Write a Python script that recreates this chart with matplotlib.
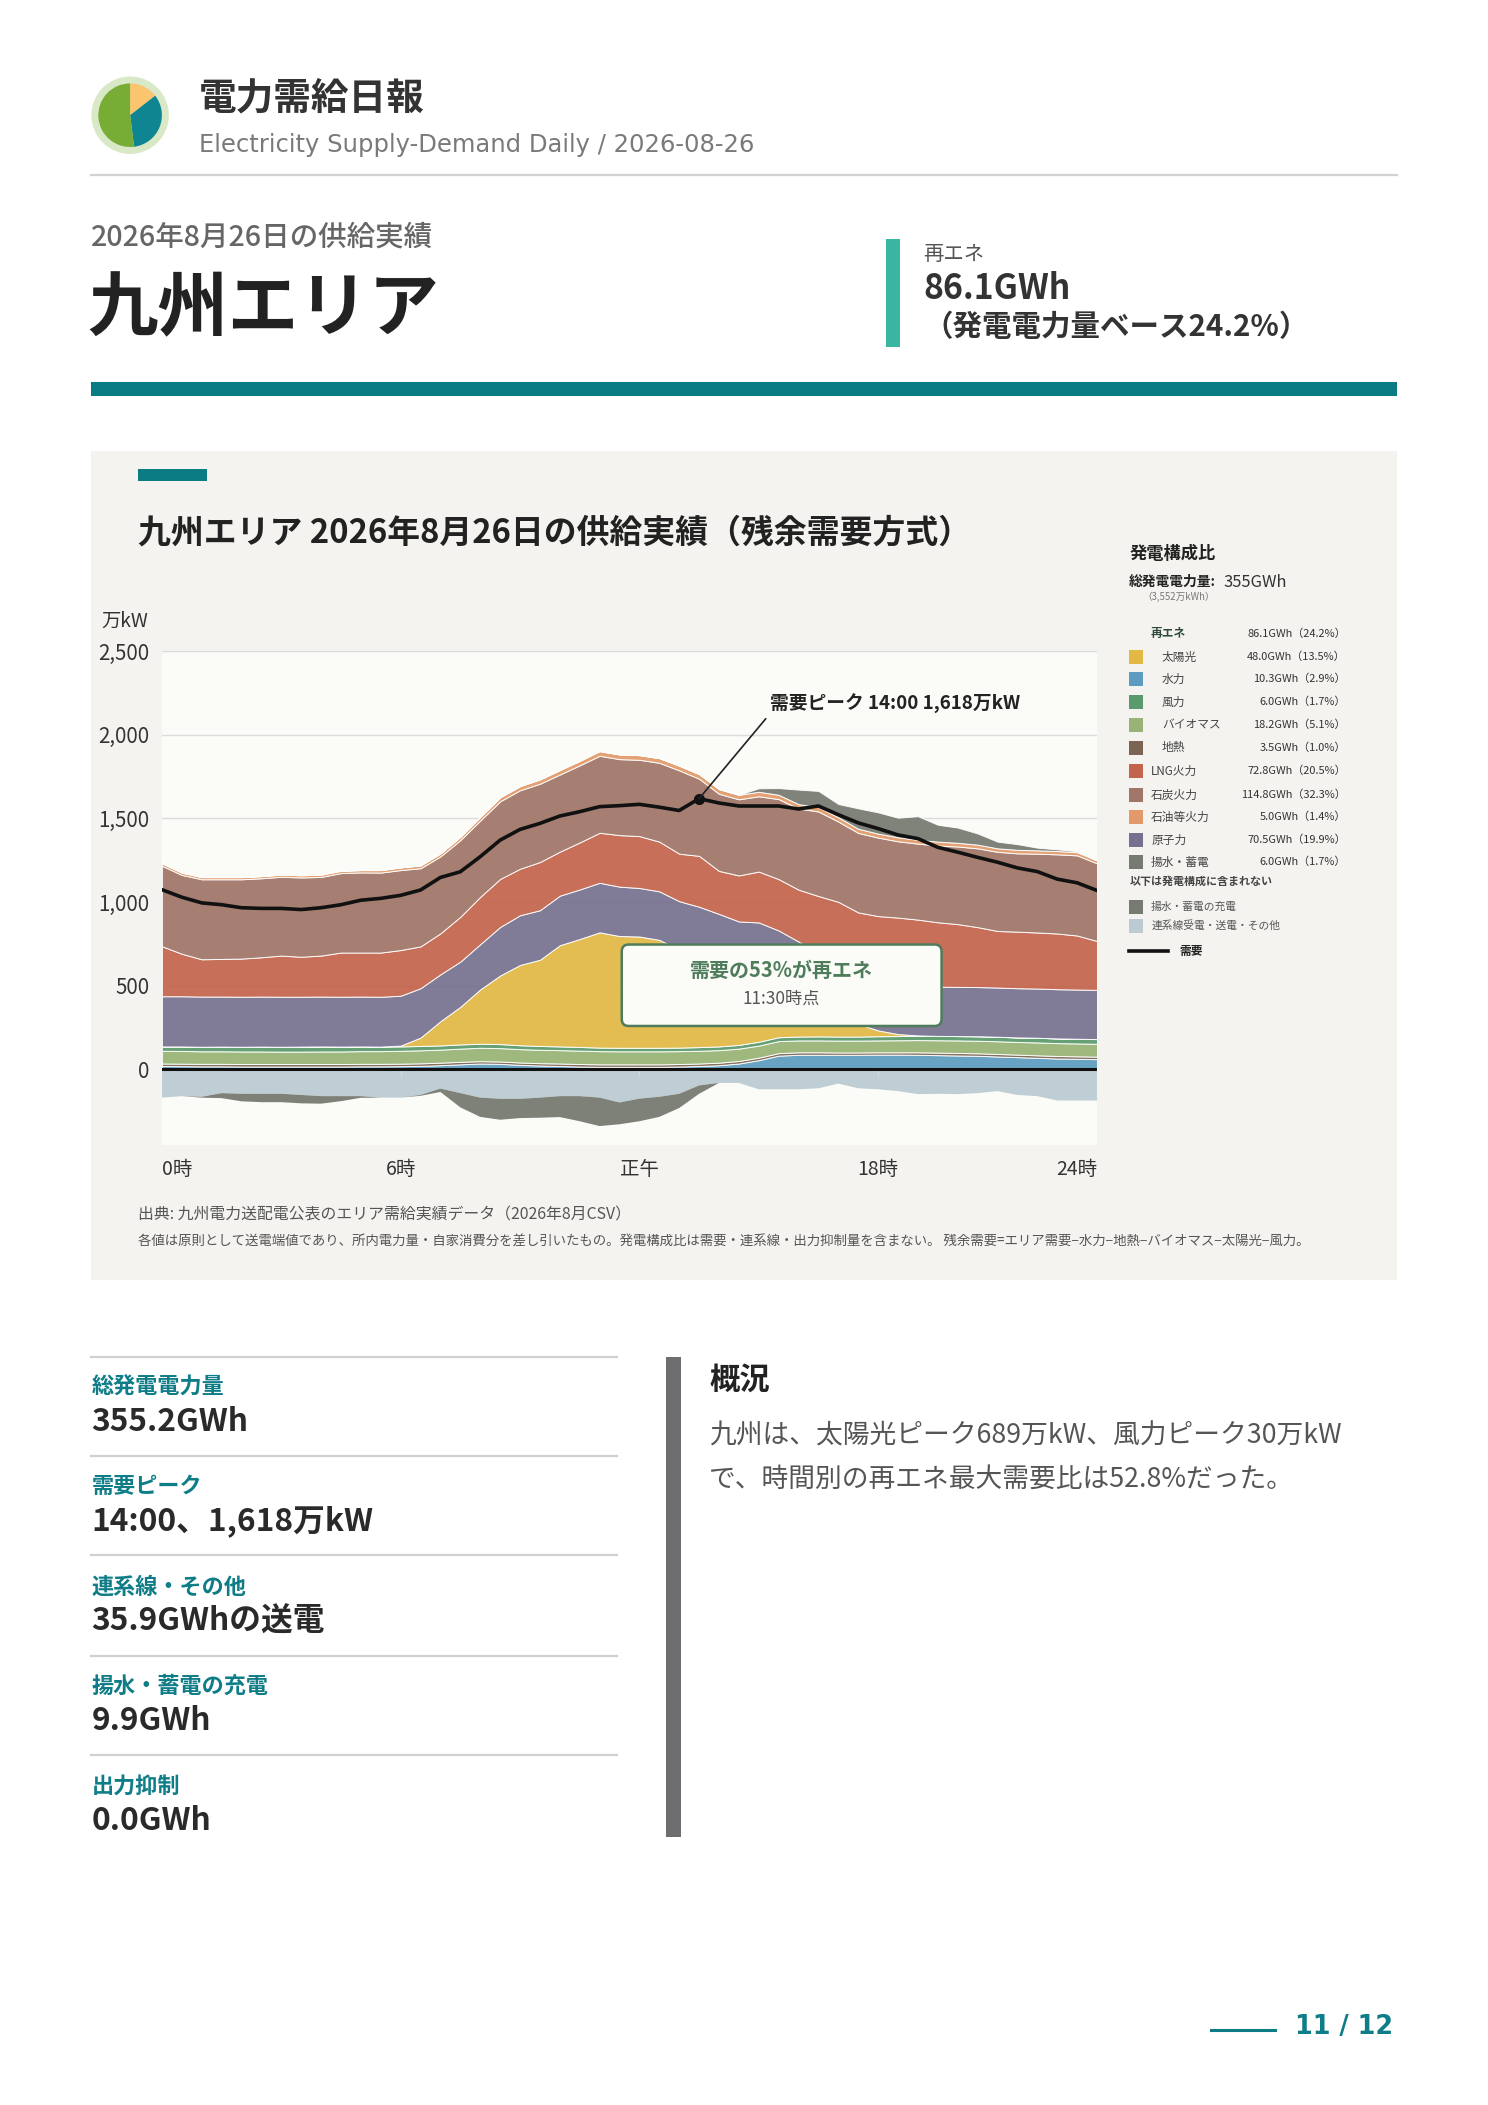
import numpy as np
import matplotlib
matplotlib.use("Agg")
import matplotlib.pyplot as plt
from matplotlib.patches import Rectangle, FancyBboxPatch, Wedge, Circle

plt.rcParams["font.family"] = ["Noto Sans CJK JP", "DejaVu Sans"]

# ============================================================
# データ（30分値、万kW）
# ============================================================

hours = np.arange(48) / 2

hydro = [20, 19, 18, 18, 17, 17, 17, 17, 17, 17, 18, 18,
         19, 21, 25, 30, 35, 33, 27, 23, 20, 17, 15, 15,
         15, 15, 17, 20, 25, 35, 55, 82, 87, 87, 87, 87,
         88, 88, 87, 85, 83, 81, 77, 73, 69, 65, 63, 61]
geothermal = [15, 15, 15, 15, 15, 15, 15, 15, 15, 15, 15, 15,
              15, 15, 15, 15, 14, 14, 14, 14, 15, 15, 15, 15,
              15, 15, 15, 15, 15, 15, 15, 15, 15, 15, 14, 14,
              14, 14, 15, 15, 15, 15, 15, 15, 15, 15, 15, 15]
biomass = [76, 76, 75, 75, 75, 75, 74, 74, 75, 75, 76, 76,
           77, 78, 78, 79, 80, 80, 80, 80, 80, 80, 79, 78,
           78, 78, 77, 76, 75, 74, 72, 72, 71, 71, 71, 71,
           71, 72, 73, 74, 75, 75, 76, 76, 77, 77, 77, 77]
wind = [26, 27, 27, 28, 28, 29, 29, 30, 30, 29, 28, 27,
        26, 26, 25, 25, 24, 24, 23, 23, 22, 22, 21, 21,
        21, 21, 21, 22, 22, 22, 23, 23, 23, 24, 24, 24,
        25, 25, 25, 26, 26, 27, 27, 27, 28, 28, 28, 28]
solar = [0, 0, 0, 0, 0, 0, 0, 0, 0, 0, 0, 0,
         5, 50, 145, 225, 325, 410, 480, 515, 605, 645, 689, 668,
         665, 645, 585, 548, 500, 445, 420, 345, 275, 200, 130, 75,
         35, 12, 3, 0, 0, 0, 0, 0, 0, 0, 0, 0]
nuclear = [300, 300, 300, 299, 299, 299, 299, 298, 298, 298, 298, 298,
           298, 295, 280, 270, 270, 290, 297, 296, 296, 296, 296, 295,
           290, 290, 290, 291, 292, 293, 293, 293, 293, 294, 294, 294,
           294, 294, 294, 294, 294, 294, 294, 294, 294, 294, 294, 294]
lng = [299, 254, 223, 225, 228, 235, 246, 239, 245, 264, 263, 264,
       273, 250, 245, 268, 283, 287, 278, 288, 263, 281, 299, 308,
       310, 297, 284, 304, 257, 275, 304, 307, 310, 345, 381, 373,
       389, 402, 398, 385, 375, 358, 338, 338, 335, 333, 323, 292]
coal = [481, 471, 478, 476, 474, 472, 471, 474, 470, 475, 479, 478,
        478, 467, 460, 458, 456, 464, 469, 468, 461, 461, 460, 454,
        456, 471, 498, 461, 461, 455, 450, 478, 485, 505, 480, 475,
        469, 456, 454, 459, 464, 471, 473, 468, 471, 473, 479, 464]
oil = [15, 14, 13, 13, 13, 13, 13, 13, 14, 14, 14, 15,
       16, 17, 18, 20, 22, 24, 25, 26, 27, 27, 28, 28,
       28, 28, 28, 28, 28, 27, 27, 26, 26, 26, 25, 25,
       24, 24, 23, 23, 22, 22, 21, 21, 20, 20, 19, 18]
pumped_gen = [0, 0, 0, 0, 0, 0, 0, 0, 0, 0, 0, 0,
              0, 0, 0, 0, 0, 0, 0, 0, 0, 0, 0, 0,
              0, 0, 0, 0, 0, 0, 21, 40, 87, 97, 80, 122,
              127, 117, 141, 101, 91, 67, 40, 34, 16, 10, 6, 0]
interconnect = [169, 160, 164, 142, 146, 146, 146, 153, 160, 160, 160, 169,
                169, 153, 115, 142, 169, 176, 176, 169, 160, 160, 169, 198,
                175, 164, 146, 96, 81, 81, 119, 119, 119, 113, 85, 113,
                119, 130, 148, 146, 148, 142, 130, 153, 160, 186, 186, 186]
pumped_charge = [0, 0, 5, 30, 45, 50, 50, 50, 45, 30, 10, 0,
                 0, 5, 20, 85, 115, 125, 115, 120, 125, 150, 170, 130,
                 135, 120, 85, 50, 0, 0, 0, 0, 0, 0, 0, 0,
                 0, 0, 0, 0, 0, 0, 0, 0, 0, 0, 0, 0]
demand = [1074, 1029, 995, 984, 966, 962, 962, 955, 966, 984, 1011, 1022,
          1040, 1072, 1147, 1181, 1271, 1370, 1434, 1470, 1514, 1540, 1570, 1576,
          1584, 1567, 1547, 1618, 1592, 1574, 1574, 1574, 1556, 1574, 1522, 1473,
          1439, 1401, 1379, 1327, 1298, 1267, 1238, 1204, 1182, 1137, 1115, 1069]

x_tick_pos = [0, 6, 12, 18, 23.5]
x_tick_labels = ["0時", "6時", "正午", "18時", "24時"]
y_ticks = [0, 500, 1000, 1500, 2000, 2500]
y_tick_labels = ["0", "500", "1,000", "1,500", "2,000", "2,500"]

mix_names = ["太陽光", "水力", "風力", "バイオマス", "地熱",
             "LNG火力", "石炭火力", "石油等火力", "原子力", "揚水・蓄電"]
mix_gwh = [48.0, 10.3, 6.0, 18.2, 3.5, 72.8, 114.8, 5.0, 70.5, 6.0]
mix_pct = [13.5, 2.9, 1.7, 5.1, 1.0, 20.5, 32.3, 1.4, 19.9, 1.7]
renew_gwh = 86.1
renew_pct = 24.2

stats_labels = ["総発電電力量", "需要ピーク", "連系線・その他", "揚水・蓄電の充電", "出力抑制"]
stats_values = ["355.2GWh", "14:00、1,618万kW", "35.9GWhの送電", "9.9GWh", "0.0GWh"]

logo_shares = [0.145, 0.335, 0.52]

# ============================================================
# 色
# ============================================================

C = {
    "太陽光": "#e2b945",
    "水力": "#5d9cc0",
    "風力": "#5b9a6c",
    "バイオマス": "#98b375",
    "地熱": "#7b6552",
    "LNG火力": "#c3644c",
    "石炭火力": "#a07668",
    "石油等火力": "#e29a6a",
    "原子力": "#77718f",
    "揚水・蓄電": "#767a71",
    "充電": "#767a71",
    "連系線": "#bccbd2",
}
TEAL = "#0b7c84"
TEAL_TXT = "#0f7d88"
PANEL = "#f4f3f0"

W, H = 1488, 2105
S = 0.9932  # レイアウト座標 -> 実ピクセル
fig = plt.figure(figsize=(W / 100, H / 100), dpi=100)


def layout_axes(z):
    a = fig.add_axes([0, 0, 1, 1], zorder=z)
    a.set_xlim(0, W / S)
    a.set_ylim(H / S, 0)
    a.axis("off")
    a.patch.set_alpha(0)
    return a


page = layout_axes(0)


def ptext(x, y, s, size, color="#333333", weight="normal", ha="left", va="center",
          ax=None, family=None):
    kw = {}
    if family:
        kw["family"] = family
    (ax or page).text(x, y, s, fontsize=size * S, color=color, fontweight=weight,
                      ha=ha, va=va, **kw)


# ---- ヘッダー ----
page.add_patch(Circle((131, 116), 39, color="#d9e8c7", lw=0))
start = 90.0
logo_colors = ["#fbc46e", "#0e8590", "#77ac35"]
for share, col in zip(logo_shares, logo_colors):
    end = start - share * 360
    # y軸が反転しているので角度の符号を反転
    page.add_patch(Wedge((131, 116), 32, -start, -end, color=col, lw=0))
    start = end

ptext(200, 99, "電力需給日報", 27.3, color="#333333", weight="bold")
ptext(200, 146, "Electricity Supply-Demand Daily / 2026-08-26", 17.6, color="#7a7a7a",
      family="DejaVu Sans")
page.plot([92, 1407], [176, 176], color="#d2d2d2", lw=1.6)

ptext(92, 239, "2026年8月26日の供給実績", 20.7, color="#666666", weight="medium")
ptext(88, 311, "九州エリア", 51, color="#222222", weight="bold")

page.add_patch(Rectangle((892, 241), 14, 108, color="#3ab5a2", lw=0))
ptext(930, 256, "再エネ", 14.8, color="#555555")
ptext(930, 290, f"{renew_gwh:.1f}GWh", 24.5, color="#333333", weight="bold")
ptext(930, 329, f"（発電電力量ベース{renew_pct:.1f}%）", 21.4, color="#333333", weight="bold")

page.add_patch(Rectangle((92, 385), 1315, 14, color=TEAL, lw=0))

# ---- チャートパネル ----
page.add_patch(Rectangle((92, 454), 1315, 835, color=PANEL, lw=0))
page.add_patch(Rectangle((139, 472), 69, 12, color=TEAL, lw=0))
ptext(139, 537, "九州エリア 2026年8月26日の供給実績（残余需要方式）", 23.8,
      color="#222222", weight="bold")
ptext(102, 626, "万kW", 14, color="#333333")

ptext(139, 1223, "出典: 九州電力送配電公表のエリア需給実績データ（2026年8月CSV）", 11.5,
      color="#555555")
ptext(139, 1250, "各値は原則として送電端値であり、所内電力量・自家消費分を差し引いたもの。"
      "発電構成比は需要・連系線・出力抑制量を含まない。 "
      "残余需要=エリア需要−水力−地熱−バイオマス−太陽光−風力。", 9.75, color="#555555")

# ---- 凡例（発電構成比） ----
LX = 1137
VX = 1355
ptext(LX, 558, "発電構成比", 12.5, color="#222222", weight="bold")
ptext(LX, 586, "総発電電力量:", 10, color="#222222", weight="bold")
ptext(1232, 586, f"{sum(mix_gwh):.0f}GWh", 12, color="#333333")
ptext(1150, 601, "（3,552万kWh）", 7, color="#777777")

ptext(1159, 638, "再エネ", 8.5, color="#2c4a36", weight="bold")
ptext(VX, 638, f"{renew_gwh:.1f}GWh（{renew_pct:.1f}%）", 8, color="#333333", ha="right")

row_y = [661.5, 683.6, 706.8, 730, 753, 776.3, 800.4, 822.6, 845.8, 868]
for name, gwh, pct, y in zip(mix_names, mix_gwh, mix_pct, row_y):
    page.add_patch(Rectangle((LX, y - 7), 14, 14, color=C[name], lw=0))
    indent = 1170 if name in ["太陽光", "水力", "風力", "バイオマス", "地熱"] else 1159
    ptext(indent, y, name, 8.5, color="#444444")
    ptext(VX, y, f"{gwh:.1f}GWh（{pct:.1f}%）", 8, color="#333333", ha="right")

ptext(LX, 888, "以下は発電構成に含まれない", 8, color="#444444", weight="bold")
page.add_patch(Rectangle((LX, 906), 14, 14, color=C["充電"], lw=0))
ptext(1159, 913, "揚水・蓄電の充電", 7.8, color="#555555")
page.add_patch(Rectangle((LX, 925), 14, 14, color=C["連系線"], lw=0))
ptext(1159, 932, "連系線受電・送電・その他", 7.8, color="#555555")
page.plot([LX, 1176], [957.5, 957.5], color="#111111", lw=2.6)
ptext(1187, 957.5, "需要", 8.5, color="#222222", weight="bold")

# ---- 下段の数値 ----
stat_y = [1397, 1497, 1598, 1698, 1798]
for y in [1366, 1466, 1566, 1667, 1767]:
    page.plot([92, 621], [y, y], color="#d0d0d0", lw=1.6)
for lab, val, y in zip(stats_labels, stats_values, stat_y):
    ptext(92, y, lab, 16, color=TEAL_TXT, weight="bold")
    ptext(92, y + 35, val, 23, color="#2a2a2a", weight="bold")

page.add_patch(Rectangle((671, 1366), 15, 484, color="#6e6e70", lw=0))
ptext(714, 1389, "概況", 22, color="#222222", weight="bold")
ptext(714, 1446, "九州は、太陽光ピーク689万kW、風力ピーク30万kW", 19.4, color="#555555")
ptext(714, 1489, "で、時間別の再エネ最大需要比は52.8%だった。", 19.4, color="#555555")

page.plot([1219, 1284], [2044, 2044], color=TEAL, lw=2.2)
ptext(1403, 2041, "11 / 12", 18.5, color=TEAL_TXT, weight="bold", ha="right",
      family="DejaVu Sans")

# ============================================================
# 需給チャート
# ============================================================

L, R, T, B = 163, 1104.5, 655.5, 1152.5
ax = fig.add_axes([L * S / W, 1 - B * S / H, (R - L) * S / W, (B - T) * S / H], zorder=1)
ax.set_facecolor("#fbfbf8")

pos_series = [hydro, geothermal, biomass, wind, solar, nuclear, lng, coal, oil, pumped_gen]
pos_colors = [C["水力"], C["地熱"], C["バイオマス"], C["風力"], C["太陽光"],
              C["原子力"], C["LNG火力"], C["石炭火力"], C["石油等火力"], C["揚水・蓄電"]]
ax.stackplot(hours, pos_series, colors=pos_colors, edgecolor="white",
             linewidth=0.7, alpha=0.93, zorder=2)
ax.stackplot(hours, -np.array(interconnect), -np.array(pumped_charge),
             colors=[C["連系線"], C["充電"]], linewidth=0, alpha=0.95, zorder=2)

ax.axhline(0, color="#111111", lw=2.2, zorder=5)
ax.vlines([6, 12, 18], -40, 0, color="#d3d9db", lw=1, zorder=4)
ax.plot(hours, demand, color="#111111", lw=2.6, zorder=6)

peak_i = int(np.argmax(demand))
ax.plot(hours[peak_i], demand[peak_i], "o", color="#111111", ms=7, zorder=7)
ax.annotate("需要ピーク 14:00 1,618万kW",
            xy=(hours[peak_i], demand[peak_i]), xytext=(15.28, 2185),
            fontsize=13.5, fontweight="bold", color="#222222", ha="left", va="center",
            arrowprops=dict(arrowstyle="-", color="#222222", lw=1.2,
                            shrinkA=2, shrinkB=0, relpos=(0, 0)),
            zorder=8)

ax.set_xlim(0, 23.5)
ax.set_ylim(-450, 2500)
ax.set_yticks(y_ticks)
ax.set_yticklabels(y_tick_labels)
ax.set_xticks(x_tick_pos)
ax.set_xticklabels(x_tick_labels)
ax.tick_params(axis="both", length=0, labelcolor="#333333")
ax.tick_params(axis="y", pad=9, labelsize=14.8)
ax.tick_params(axis="x", pad=10, labelsize=14)
xl = ax.get_xticklabels()
xl[0].set_ha("left")
xl[-1].set_ha("right")
ax.yaxis.grid(True, color="#dcdcdc", lw=1)
ax.set_axisbelow(True)
for s in ax.spines.values():
    s.set_visible(False)

# ---- 吹き出し ----
top = layout_axes(2)
top.add_patch(FancyBboxPatch((626, 951), 322, 82,
                             boxstyle="round,pad=0,rounding_size=7",
                             fc="#fbfbf8", ec="#4f7d5c", lw=1.8))
ptext(787, 977, "需要の53%が再エネ", 14.5, color="#4f7d5c", weight="bold", ha="center", ax=top)
ptext(787, 1006, "11:30時点", 12.5, color="#555555", ha="center", ax=top)

fig.savefig("out.png", dpi=100, facecolor="white")
